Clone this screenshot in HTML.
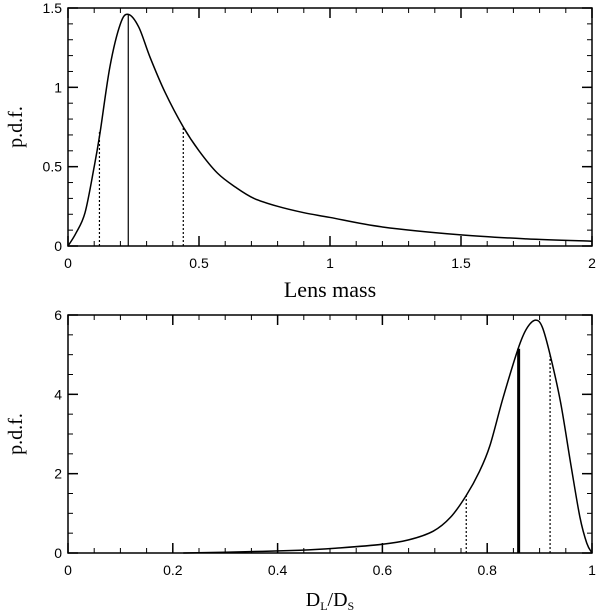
<!DOCTYPE html>
<html><head><meta charset="utf-8"><style>
html,body{margin:0;padding:0;background:#fff;width:600px;height:615px;overflow:hidden}
svg text{font-family:"Liberation Sans",sans-serif;fill:#000}
.serif{font-family:"Liberation Serif",serif}
</style></head><body>
<svg id="chart" width="600" height="615" viewBox="0 0 600 615"></svg>
<script>
// Top panel data (Lens mass)
const massX = [0,0.03,0.065,0.1,0.122,0.16,0.2,0.23,0.27,0.313,0.37,0.44,0.5,0.57,0.64,0.71,0.8,0.9,1.0,1.2,1.5,1.75,2.0];
const massY = [0,0.08,0.21,0.5,0.71,1.13,1.4,1.46,1.38,1.19,0.97,0.75,0.6,0.46,0.37,0.3,0.25,0.21,0.18,0.12,0.07,0.045,0.03];
const massLines = [0.12,0.23,0.44];
const massLineY = [0.72,1.46,0.75];
const massLineStyle = ["dot","solid","dot"];
const massXTicks = [0,0.5,1,1.5,2];
const massXTickLabels = ["0","0.5","1","1.5","2"];
const massYTicks = [0,0.5,1,1.5];
const massYTickLabels = ["0","0.5","1","1.5"];
// Bottom panel data (D_L/D_S)
const dX = [0.22,0.3,0.443,0.52,0.6,0.65,0.697,0.73,0.76,0.785,0.805,0.83,0.859,0.875,0.892,0.905,0.92,0.94,0.96,0.977,0.99,1.0];
const dY = [0,0.02,0.07,0.13,0.22,0.33,0.55,0.9,1.45,2.05,2.7,3.9,5.15,5.65,5.87,5.7,5.0,3.8,2.2,0.9,0.25,0];
const dLines = [0.76,0.86,0.92];
const dLineY = [1.5,5.15,5.0];
const dLineStyle = ["dot","thick","dot"];
const dXTicks = [0,0.2,0.4,0.6,0.8,1];
const dXTickLabels = ["0","0.2","0.4","0.6","0.8","1"];
const dYTicks = [0,2,4,6];
const dYTickLabels = ["0","2","4","6"];

const NS="http://www.w3.org/2000/svg";
const svg=document.getElementById('chart');
function mk(tag,attrs,parent){const e=document.createElementNS(NS,tag);for(const k in attrs)e.setAttribute(k,attrs[k]);(parent||svg).appendChild(e);return e;}
function spline(pts){let d=`M${pts[0][0]},${pts[0][1]}`;for(let i=0;i<pts.length-1;i++){const p0=pts[Math.max(0,i-1)],p1=pts[i],p2=pts[i+1],p3=pts[Math.min(pts.length-1,i+2)];
const c1=[p1[0]+(p2[0]-p0[0])/6,p1[1]+(p2[1]-p0[1])/6],c2=[p2[0]-(p3[0]-p1[0])/6,p2[1]-(p3[1]-p1[1])/6];
d+=` C${c1[0].toFixed(2)},${c1[1].toFixed(2)} ${c2[0].toFixed(2)},${c2[1].toFixed(2)} ${p2[0].toFixed(2)},${p2[1].toFixed(2)}`;}return d;}

function panel(cfg){
  const g=mk('g',{});
  
  
  const sx=v=>cfg.x0+(v-cfg.xmin)/(cfg.xmax-cfg.xmin)*(cfg.x1-cfg.x0);
  const sy=v=>cfg.y0-(v-cfg.ymin)/(cfg.ymax-cfg.ymin)*(cfg.y0-cfg.y1);
  for(let v=cfg.xmin;v<=cfg.xmax+1e-9;v+=cfg.xminor){const x=sx(v);
    mk('line',{x1:x,y1:cfg.y0,x2:x,y2:cfg.y0-5,stroke:'#000','stroke-width':1},g);
    mk('line',{x1:x,y1:cfg.y1,x2:x,y2:cfg.y1+5,stroke:'#000','stroke-width':1},g);}
  for(let v=cfg.ymin;v<=cfg.ymax+1e-9;v+=cfg.yminor){const y=sy(v);
    mk('line',{x1:cfg.x0,y1:y,x2:cfg.x0+5,y2:y,stroke:'#000','stroke-width':1},g);
    mk('line',{x1:cfg.x1,y1:y,x2:cfg.x1-5,y2:y,stroke:'#000','stroke-width':1},g);}
  cfg.xt.forEach((v,i)=>{const x=sx(v);
    mk('line',{x1:x,y1:cfg.y0,x2:x,y2:cfg.y0-10,stroke:'#000','stroke-width':1.5},g);
    mk('line',{x1:x,y1:cfg.y1,x2:x,y2:cfg.y1+10,stroke:'#000','stroke-width':1.5},g);
    const t=mk('text',{x:x,y:cfg.y0+22,'text-anchor':'middle','font-size':14},g);t.textContent=cfg.xl[i];
    
    });
  cfg.yt.forEach((v,i)=>{const y=sy(v);
    mk('line',{x1:cfg.x0,y1:y,x2:cfg.x0+10,y2:y,stroke:'#000','stroke-width':1.5},g);
    mk('line',{x1:cfg.x1,y1:y,x2:cfg.x1-10,y2:y,stroke:'#000','stroke-width':1.5},g);
    const t=mk('text',{x:cfg.x0-6,y:y+5,'text-anchor':'end','font-size':14},g);t.textContent=cfg.yl[i];
    
    });
  const fr=mk('rect',{x:cfg.x0,y:cfg.y1,width:cfg.x1-cfg.x0,height:cfg.y0-cfg.y1,fill:'none',stroke:'#000','stroke-width':1.5},g);
  
  
  const pts=cfg.dx.map((v,i)=>[sx(v),sy(cfg.dy[i])]);
  const c=mk('path',{d:spline(pts),fill:'none',stroke:'#000','stroke-width':1.5},g);
  
  
  cfg.lx.forEach((v,i)=>{const st=cfg.ls[i];
    const l=mk('line',{x1:sx(v),y1:cfg.y0,x2:sx(v),y2:sy(cfg.ly[i]),stroke:'#000','stroke-width':st==='thick'?3:1.2},g);
    if(st==='dot')l.setAttribute('stroke-dasharray','2,2');
    
    });
}
panel({name:'top-panel-lens-mass',x0:68,x1:592,y0:246,y1:8,xmin:0,xmax:2,ymin:0,ymax:1.5,xminor:0.1,yminor:0.1,
  xt:massXTicks,xl:massXTickLabels,yt:massYTicks,yl:massYTickLabels,dx:massX,dy:massY,lx:massLines,ly:massLineY,ls:massLineStyle});
panel({name:'bottom-panel-distance-ratio',x0:68,x1:592,y0:553,y1:315,xmin:0,xmax:1,ymin:0,ymax:6,xminor:0.05,yminor:0.5,
  xt:dXTicks,xl:dXTickLabels,yt:dYTicks,yl:dYTickLabels,dx:dX,dy:dY,lx:dLines,ly:dLineY,ls:dLineStyle});
</script>
<svg width="600" height="615" style="position:absolute;left:0;top:0">
<text class="serif" x="330" y="297" text-anchor="middle" font-size="22">Lens mass</text>
<text class="serif" x="0" y="0" transform="translate(22,127) rotate(-90)" text-anchor="middle" font-size="20">p.d.f.</text>
<text class="serif" x="0" y="0" transform="translate(22,434) rotate(-90)" text-anchor="middle" font-size="20">p.d.f.</text>
<text class="serif" x="330" y="606" text-anchor="middle" font-size="20">D<tspan font-size="12" dy="4">L</tspan><tspan dy="-4">/D</tspan><tspan font-size="12" dy="4">S</tspan></text>
</svg>
</body></html>
